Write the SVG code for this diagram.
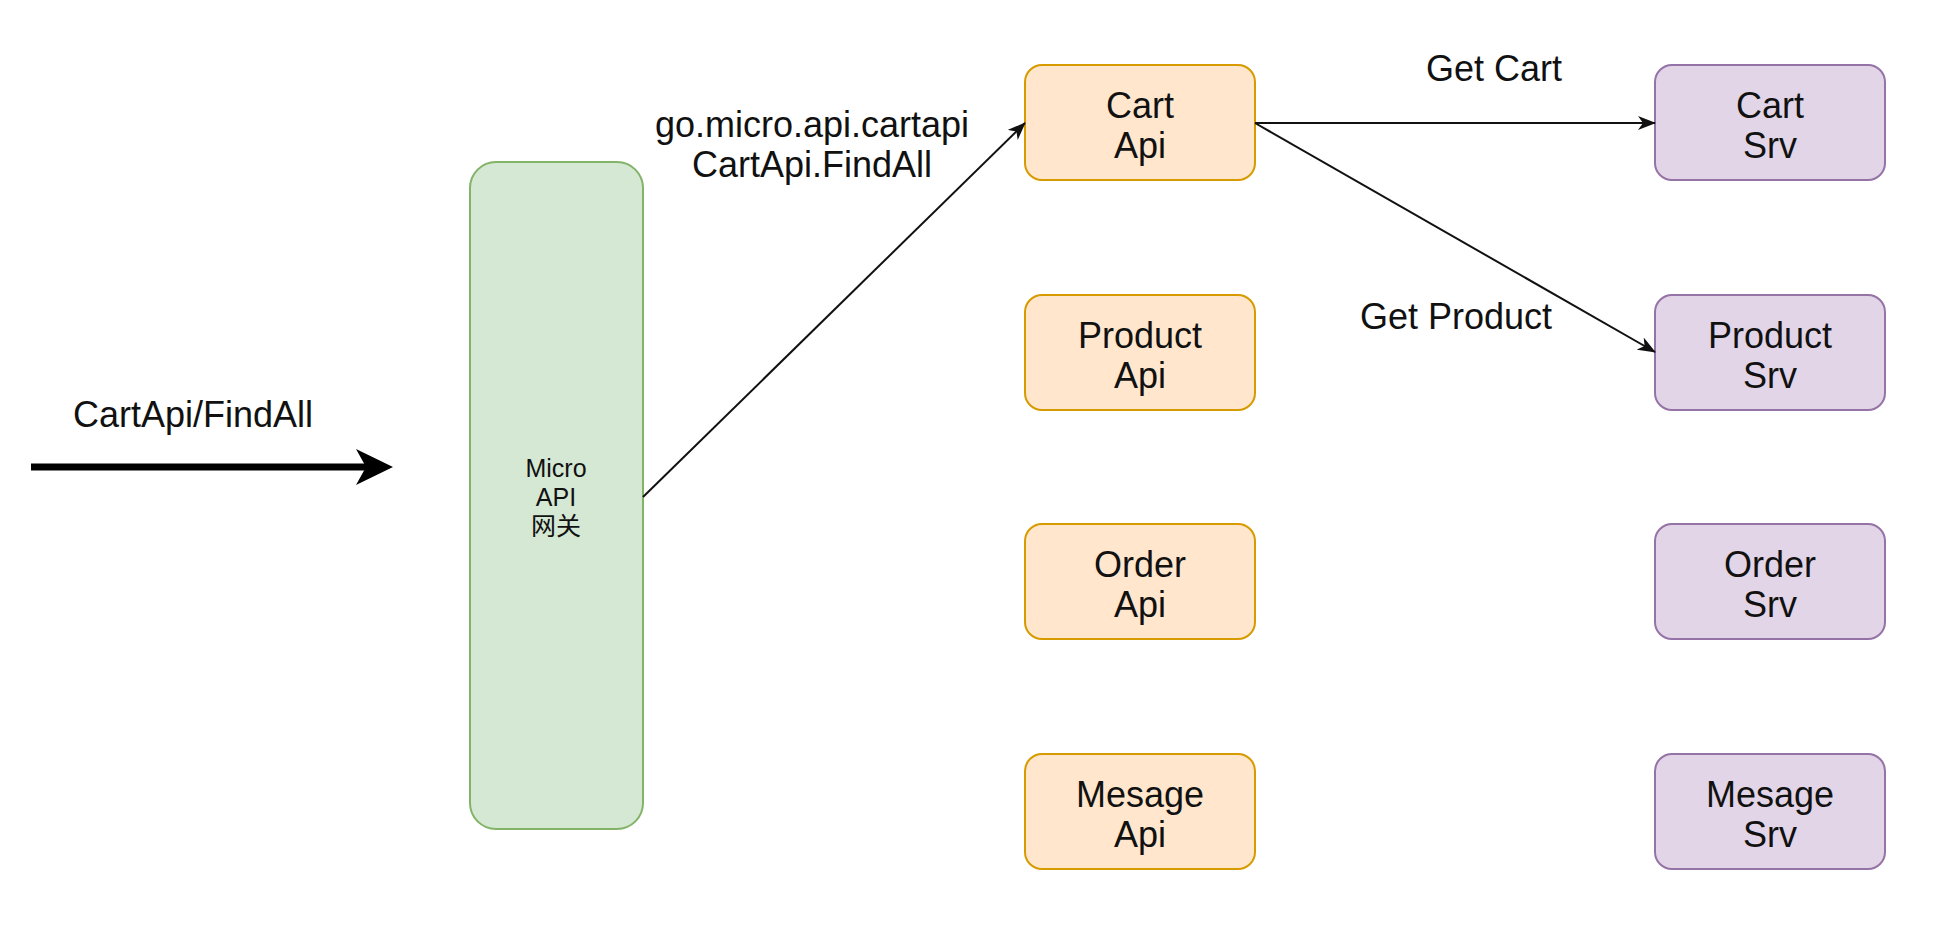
<svg xmlns="http://www.w3.org/2000/svg" width="1934" height="930" viewBox="0 0 1934 930">
<style>
text{font-family:"Liberation Sans","Noto Sans CJK SC",Arial,sans-serif;fill:#111;text-anchor:middle}
.big{font-size:36px}
.small{font-size:25px}
.api rect{fill:#ffe6cc;stroke:#d79b00;stroke-width:2}
.srv rect{fill:#e1d5e7;stroke:#9673a6;stroke-width:2}
.gw rect{fill:#d5e8d4;stroke:#82b366;stroke-width:2}
.edge{fill:none;stroke:#111;stroke-width:2}
</style>
<defs>
<marker id="arr" markerUnits="userSpaceOnUse" markerWidth="18" markerHeight="14" viewBox="0 0 18 14" refX="17" refY="7" orient="auto">
<path d="M0,0 L18,7 L0,14 L5,7 Z" fill="#111"/>
</marker>
</defs>
<rect width="1934" height="930" fill="#fff"/>

<g id="entry">
<text class="big" x="193" y="427">CartApi/FindAll</text>
<line x1="31" y1="467" x2="366" y2="467" stroke="#000" stroke-width="7"/>
<polygon points="393,467 356,449 366,467 356,485" fill="#000"/>
</g>

<g id="gateway" class="gw">
<rect x="470" y="162" width="173" height="667" rx="26" ry="26"/>
<text class="small" x="556" y="477">Micro</text>
<text class="small" x="556" y="506">API</text>
<text class="small" x="556" y="535">网关</text>
</g>

<g id="cart-api" class="api">
<rect x="1025" y="65" width="230" height="115" rx="17" ry="17"/>
<text class="big" x="1140" y="118">Cart</text>
<text class="big" x="1140" y="158">Api</text>
</g>
<g id="product-api" class="api">
<rect x="1025" y="295" width="230" height="115" rx="17" ry="17"/>
<text class="big" x="1140" y="348">Product</text>
<text class="big" x="1140" y="388">Api</text>
</g>
<g id="order-api" class="api">
<rect x="1025" y="524" width="230" height="115" rx="17" ry="17"/>
<text class="big" x="1140" y="577">Order</text>
<text class="big" x="1140" y="617">Api</text>
</g>
<g id="mesage-api" class="api">
<rect x="1025" y="754" width="230" height="115" rx="17" ry="17"/>
<text class="big" x="1140" y="807">Mesage</text>
<text class="big" x="1140" y="847">Api</text>
</g>

<g id="cart-srv" class="srv">
<rect x="1655" y="65" width="230" height="115" rx="17" ry="17"/>
<text class="big" x="1770" y="118">Cart</text>
<text class="big" x="1770" y="158">Srv</text>
</g>
<g id="product-srv" class="srv">
<rect x="1655" y="295" width="230" height="115" rx="17" ry="17"/>
<text class="big" x="1770" y="348">Product</text>
<text class="big" x="1770" y="388">Srv</text>
</g>
<g id="order-srv" class="srv">
<rect x="1655" y="524" width="230" height="115" rx="17" ry="17"/>
<text class="big" x="1770" y="577">Order</text>
<text class="big" x="1770" y="617">Srv</text>
</g>
<g id="mesage-srv" class="srv">
<rect x="1655" y="754" width="230" height="115" rx="17" ry="17"/>
<text class="big" x="1770" y="807">Mesage</text>
<text class="big" x="1770" y="847">Srv</text>
</g>

<g id="connectors">
<line class="edge" x1="643" y1="497" x2="1025" y2="123" marker-end="url(#arr)"/>
<line class="edge" x1="1255" y1="123" x2="1655" y2="123" marker-end="url(#arr)"/>
<line class="edge" x1="1255" y1="123" x2="1655" y2="352" marker-end="url(#arr)"/>
<text class="big" x="812" y="137">go.micro.api.cartapi</text>
<text class="big" x="812" y="177">CartApi.FindAll</text>
<text class="big" x="1494" y="81">Get Cart</text>
<text class="big" x="1456" y="329">Get Product</text>
</g>
</svg>
